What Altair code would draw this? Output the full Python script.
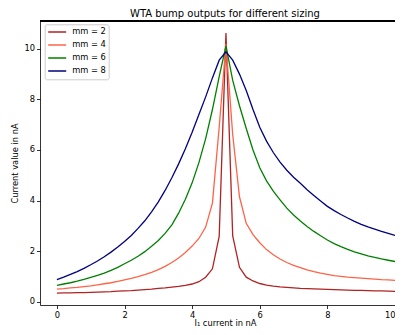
import altair as alt
import pandas as pd

x_values = [round(i * 0.2, 1) for i in range(51)]

mm2 = [0.34, 0.35, 0.35, 0.36, 0.36, 0.37, 0.38, 0.39, 0.40, 0.42,
       0.43, 0.44, 0.46, 0.48, 0.50, 0.53, 0.55, 0.58, 0.61, 0.65,
       0.70, 0.79, 0.97, 1.30, 2.58, 10.62, 2.60, 1.36, 0.97, 0.82,
       0.72, 0.66, 0.62, 0.59, 0.57, 0.55, 0.53, 0.52, 0.51, 0.50,
       0.49, 0.48, 0.47, 0.46, 0.45, 0.45, 0.44, 0.43, 0.43, 0.42, 0.41]

mm4 = [0.50, 0.52, 0.55, 0.57, 0.60, 0.63, 0.67, 0.71, 0.75, 0.80,
       0.86, 0.92, 0.99, 1.07, 1.16, 1.27, 1.40, 1.55, 1.73, 1.95,
       2.20, 2.50, 2.95, 3.90, 6.90, 10.20, 6.60, 4.15, 3.10, 2.65,
       2.33, 2.06, 1.86, 1.69, 1.55, 1.44, 1.35, 1.26, 1.19, 1.13,
       1.08, 1.03, 1.00, 0.97, 0.95, 0.93, 0.91, 0.89, 0.87, 0.86, 0.84]

mm6 = [0.65, 0.70, 0.75, 0.81, 0.88, 0.96, 1.04, 1.13, 1.24, 1.36,
       1.50, 1.64, 1.80, 1.98, 2.19, 2.42, 2.70, 3.04, 3.50, 4.05,
       4.70, 5.50, 6.45, 7.60, 8.90, 10.12, 8.75, 7.75, 6.85, 6.00,
       5.30, 4.78, 4.37, 4.03, 3.70, 3.43, 3.19, 2.97, 2.78, 2.61,
       2.44, 2.30, 2.18, 2.07, 1.97, 1.89, 1.81, 1.75, 1.69, 1.64, 1.59]

mm8 = [0.87, 0.97, 1.08, 1.19, 1.32, 1.46, 1.61, 1.78, 1.96, 2.16,
       2.38, 2.62, 2.90, 3.20, 3.55, 3.95, 4.40, 4.90, 5.45, 6.05,
       6.70, 7.40, 8.10, 8.85, 9.55, 9.88, 9.55, 9.00, 8.35, 7.60,
       6.90, 6.35, 5.90, 5.52, 5.20, 4.92, 4.68, 4.43, 4.20, 3.98,
       3.77, 3.60, 3.45, 3.31, 3.18, 3.06, 2.96, 2.87, 2.78, 2.70, 2.62]

series_names = ["mm = 2", "mm = 4", "mm = 6", "mm = 8"]
series_colors = ["#b22222", "#ff6347", "#008000", "#000080"]
x_ticks = [0, 2, 4, 6, 8, 10]
y_ticks = [0, 2, 4, 6, 8, 10]

rows = []
for name, vals in zip(series_names, [mm2, mm4, mm6, mm8]):
    for xv, yv in zip(x_values, vals):
        rows.append({"x": xv, "y": yv, "series": name})
df = pd.DataFrame(rows)

FONT = "DejaVu Sans"
W, H = 355, 284

lines = alt.Chart(df).mark_line(strokeWidth=1.3).encode(
    x=alt.X("x:Q", scale=alt.Scale(domain=[-0.5, 10.0], nice=False, zero=False),
            axis=alt.Axis(values=x_ticks, title="I₁ current in nA", format="d",
                          titleX=185, titleY=20.5, titleAlign="center",
                          titleBaseline="alphabetic")),
    y=alt.Y("y:Q", scale=alt.Scale(domain=[-0.13, 11.1], nice=False, zero=False),
            axis=alt.Axis(values=y_ticks, title="Current value in nA", format="d")),
    color=alt.Color("series:N",
                    scale=alt.Scale(domain=series_names, range=series_colors),
                    legend=alt.Legend(title=None, orient="none", legendX=4.7, legendY=3.3)),
)

top_spine = alt.Chart(df).mark_rule(color="black", strokeWidth=0.8).encode(
    x=alt.value(0), x2=alt.value(W), y=alt.value(0)
)

chart = alt.layer(lines, top_spine).properties(
    width=W,
    height=H,
    title=alt.TitleParams("WTA bump outputs for different sizing", fontSize=10,
                          font=FONT, fontWeight="normal", color="black",
                          anchor="middle", dx=7.5, offset=2),
    autosize=alt.AutoSizeParams(type="none"),
    padding={"left": 32, "top": 13, "right": 0, "bottom": 22},
).configure_view(
    stroke=None
).configure_axis(
    grid=False, domain=True, domainColor="black", domainWidth=0.8,
    tickColor="black", tickSize=3.5, tickWidth=0.8,
    labelFont=FONT, labelFontSize=8.3, labelColor="black", labelPadding=2,
    titleFont=FONT, titleFontSize=8.3, titleFontWeight="normal", titleColor="black",
    titlePadding=4
).configure_legend(
    symbolType="stroke", symbolSize=324, symbolStrokeWidth=1.5,
    labelFont=FONT, labelFontSize=8.3, labelColor="black",
    strokeColor="#cccccc", fillColor="white", cornerRadius=2, padding=2.5,
    rowPadding=2, clipHeight=10.4, labelOffset=5
)

chart.save("out.html", embed_options={"renderer": "svg", "actions": False})
